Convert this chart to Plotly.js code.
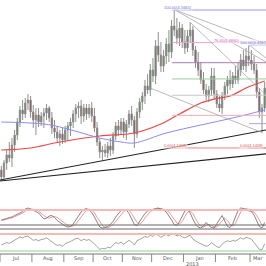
<!DOCTYPE html>
<html><head><meta charset="utf-8">
<script src="https://cdn.plot.ly/plotly-3.0.1.min.js"></script>
<style>html,body{margin:0;padding:0;background:#fff;}#c{width:266px;height:266px;}</style>
</head><body><div id="c"></div>
<script>
const openP = [4.0728,4.0512,4.0944,4.1191,4.1098,4.1499,4.1808,4.2209,4.2579,4.2456,
4.2795,4.2888,4.2518,4.2271,4.2425,4.2209,4.2394,4.2487,4.2641,4.2333,
4.2024,4.1900,4.1715,4.1839,4.1654,4.1962,4.2086,4.2209,4.2456,4.2641,
4.2703,4.2394,4.2641,4.2456,4.2641,4.2394,4.2024,4.1592,4.1283,4.1345,
4.1252,4.1468,4.1345,4.1777,4.2086,4.1962,4.2209,4.1900,4.2147,4.2456,
4.2271,4.1839,4.2518,4.2826,4.3011,4.3320,4.3197,4.3814,4.3629,4.4554,
4.4277,4.3937,4.4246,4.4616,4.4369,4.5172,4.5048,4.4801,4.5110,4.4678,
4.4493,4.4863,4.5048,4.4431,4.4061,4.3814,4.3505,4.3197,4.3011,4.3197,
4.3629,4.3073,4.2765,4.2641,4.3011,4.3320,4.3505,4.3382,4.3629,4.3505,
4.3814,4.4122,4.3937,4.4246,4.4122,4.3999,4.3814,4.3135,4.2518,4.2641];
const highP = [4.0851,4.1036,4.1345,4.1592,4.1715,4.1962,4.2333,4.2703,4.2888,4.2950,
4.3073,4.3011,4.2734,4.2641,4.2641,4.2518,4.2641,4.2765,4.2703,4.2518,
4.2271,4.2086,4.1962,4.2024,4.2086,4.2209,4.2333,4.2579,4.2765,4.2826,
4.2888,4.2765,4.2765,4.2765,4.2826,4.2641,4.2209,4.1715,4.1468,4.1530,
4.1592,4.1715,4.1900,4.2209,4.2271,4.2333,4.2333,4.2271,4.2579,4.2703,
4.2394,4.2641,4.2950,4.3135,4.3505,4.3690,4.3999,4.4184,4.4740,4.4986,
4.4678,4.4431,4.4801,4.5048,4.5357,4.5665,4.5419,4.5295,4.5233,4.5048,
4.5048,4.5295,4.5172,4.4554,4.4369,4.4061,4.3752,4.3382,4.3320,4.3876,
4.3876,4.3197,4.3011,4.3135,4.3443,4.3629,4.3814,4.3752,4.3937,4.4061,
4.4308,4.4431,4.4493,4.4587,4.4431,4.4246,4.3999,4.3258,4.2765,4.3443];
const lowP = [4.0388,4.0450,4.0728,4.0975,4.0820,4.1283,4.1654,4.2055,4.2271,4.2333,
4.2579,4.2333,4.2024,4.1808,4.2055,4.2086,4.2024,4.2271,4.2209,4.1839,
4.1715,4.1561,4.1468,4.1530,4.1561,4.1623,4.1777,4.2024,4.2209,4.2333,
4.2147,4.2209,4.2271,4.2333,4.2209,4.1900,4.1468,4.1098,4.1036,4.1129,
4.1098,4.1160,4.1222,4.1654,4.1777,4.1839,4.1715,4.1654,4.2024,4.2086,
4.1408,4.1715,4.2333,4.2579,4.2765,4.3073,4.3011,4.3443,4.3382,4.4061,
4.3752,4.3752,4.3999,4.4061,4.4184,4.4863,4.4616,4.4554,4.4493,4.4308,
4.4369,4.4678,4.4246,4.3876,4.3629,4.3382,4.3073,4.2888,4.2826,4.3011,
4.2888,4.2641,4.2518,4.2456,4.2888,4.3073,4.3197,4.3258,4.3382,4.3382,
4.3629,4.3814,4.3752,4.3937,4.3814,4.3690,4.2950,4.2333,4.1900,4.2518];
const closeP = [4.0512,4.0944,4.1191,4.1098,4.1499,4.1808,4.2209,4.2579,4.2456,4.2795,
4.2888,4.2518,4.2271,4.2425,4.2209,4.2394,4.2487,4.2641,4.2333,4.2024,
4.1900,4.1715,4.1839,4.1654,4.1962,4.2086,4.2209,4.2456,4.2641,4.2703,
4.2394,4.2641,4.2456,4.2641,4.2394,4.2024,4.1592,4.1283,4.1345,4.1252,
4.1468,4.1345,4.1777,4.2086,4.1962,4.2209,4.1900,4.2147,4.2456,4.2271,
4.1839,4.2518,4.2826,4.3011,4.3320,4.3197,4.3814,4.3629,4.4554,4.4277,
4.3937,4.4246,4.4616,4.4369,4.5172,4.5048,4.4801,4.5110,4.4678,4.4493,
4.4863,4.5048,4.4431,4.4061,4.3814,4.3505,4.3197,4.3011,4.3197,4.3629,
4.3073,4.2765,4.2641,4.3011,4.3320,4.3505,4.3382,4.3629,4.3505,4.3814,
4.4122,4.3937,4.4246,4.4122,4.3999,4.3814,4.3135,4.2518,4.2641,4.3258];

const maRedIdx = [0,11,22,37,50,60,67,75,80,86,92,99];
const maRedVal = [4.1345,4.1407,4.1592,4.1777,4.1870,4.2147,4.2456,4.2795,4.2919,4.3011,4.3258,4.3474];
const maBlueIdx = [0,16,22,29,37,45,50,62,75,87,99];
const maBlueVal = [4.2209,4.2147,4.2055,4.1900,4.1715,4.1592,4.1561,4.1870,4.2116,4.2333,4.2579];

const stochK = [40,42,46,50,52,58,62,68,74,84, 88,84,78,74,68,56,44,48,56,58,
50,38,30,22,16,12,14,24,40,58, 72,82,86,80,70,52,32,12,8,10,
14,22,34,52,64,78,82,80,66,44, 22,18,32,50,66,76,80,84,86,88,
84,80,72,58,40,22,18,34,56,76, 82,68,44,24,12,8,16,30,18,10,
8,24,44,58,36,14,10,24,52,78, 88,86,80,78,74,60,36,14,8,30];
const stochD = [38,40,42,45,49,53,57,62,68,75, 82,85,84,80,75,68,58,50,48,52,
54,50,42,32,24,18,14,16,24,38, 56,70,80,84,80,68,52,34,18,10,
10,14,22,34,48,62,74,80,78,66, 46,30,24,32,48,62,74,80,84,86,
86,84,80,72,58,40,28,24,34,54, 70,76,66,46,28,16,12,18,22,18,
12,12,24,40,48,38,22,16,26,50, 72,84,86,82,78,72,58,38,20,16];
const rsi = [44,47,50,48,52,56,60,63,61,64, 65,60,55,57,54,57,58,61,56,50,
47,43,45,41,47,50,52,56,59,60, 54,58,55,57,53,47,40,34,36,35,
39,37,44,50,47,51,46,50,55,51, 44,54,58,60,64,62,67,64,71,67,
62,66,69,65,72,69,66,68,63,61, 65,67,58,53,50,47,43,41,43,50,
45,40,38,46,51,54,52,55,53,57, 61,58,62,60,58,50,42,34,33,47];

const monthLabels = ["Jul","Aug","Sep","Oct","Nov","Dec","Jan","Feb","Mar"];
const monthStarts = [-0.5,11.5,23.5,34.5,45.5,56.5,68.5,80.5,93.5];
const yearLabel = "2013";

const fibA = {start:64.2, levels:[
  {p:4.5665,c:"#9a9af0"},{p:4.4660,c:"#f4a0d0"},{p:4.4039,c:"#b07ab0"},
  {p:4.3537,c:"#9ccc9c"},{p:4.3034,c:"#c8c8c8"},{p:4.2413,c:"#f4b0b0"},{p:4.1408,c:"#f08080"}]};
const fibB = {start:93.1, levels:[{p:4.4587,c:"#9a9af0"},{p:4.2158,c:"#a8a8d0"},{p:4.1408,c:"#f08080"}]};
const fibLabels = [
  {x:60.8,p:4.5665,t:"100.00(4.5665)",c:"#7070d8"},
  {x:79.6,p:4.4660,t:"76.40(4.4660)",c:"#e050c0"},
  {x:89.4,p:4.4587,t:"100.00(4.4587)",c:"#7070d8"},
  {x:60.8,p:4.1408,t:"0.00(4.1408)",c:"#e05050"},
  {x:89.4,p:4.1408,t:"0.00(4.1408)",c:"#e05050"}];
const trendLines = [
  {x0:-0.5,y0:4.0419,x1:99.5,y1:4.1962},
  {x0:-0.5,y0:4.0388,x1:99.5,y1:4.1222}];
const greyLines = [
  {x0:65.3,y0:4.5665,x1:99.5,y1:4.4616},
  {x0:65.3,y0:4.5665,x1:99.5,y1:4.4061},
  {x0:70.9,y0:4.5295,x1:99.5,y1:4.3042},
  {x0:55.9,y0:4.3258,x1:98.4,y1:4.1870},
  {x0:93.1,y0:4.4587,x1:99.5,y1:4.4184}];

const idx = closeP.map((_, i) => i);
const N = idx.length;
const py = y => (266 - y) / 266;

const traces = [
  {type:"candlestick", x:idx, open:openP, high:highP, low:lowP, close:closeP,
   xaxis:"x", yaxis:"y", whiskerwidth:0,
   increasing:{line:{color:"#8e8e8e",width:1}, fillcolor:"#3f7f3f"},
   decreasing:{line:{color:"#8e8e8e",width:1}, fillcolor:"#8b2323"},
   hoverinfo:"skip", showlegend:false},
  {type:"scatter", mode:"lines", x:maRedIdx, y:maRedVal, xaxis:"x", yaxis:"y",
   line:{color:"#e84848",width:1.2,shape:"spline"}, showlegend:false, hoverinfo:"skip"},
  {type:"scatter", mode:"lines", x:maBlueIdx, y:maBlueVal, xaxis:"x", yaxis:"y",
   line:{color:"#8c8cf0",width:1,shape:"spline"}, showlegend:false, hoverinfo:"skip"},
  {type:"scatter", mode:"lines", x:idx, y:stochD, xaxis:"x", yaxis:"y2",
   line:{color:"#f08a8a",width:0.9}, showlegend:false, hoverinfo:"skip"},
  {type:"scatter", mode:"lines", x:idx, y:stochK, xaxis:"x", yaxis:"y2",
   line:{color:"#666666",width:0.8}, showlegend:false, hoverinfo:"skip"},
  {type:"scatter", mode:"lines", x:idx, y:rsi, xaxis:"x", yaxis:"y3",
   line:{color:"#8a8a8a",width:0.8}, showlegend:false, hoverinfo:"skip"}
];

const shapes = [];
shapes.push({type:"line",xref:"paper",x0:0,x1:1,yref:"y2",y0:80,y1:80,line:{color:"#f7b8b8",width:2}});
shapes.push({type:"line",xref:"paper",x0:0,x1:1,yref:"y2",y0:20,y1:20,line:{color:"#666",width:1}});
shapes.push({type:"line",xref:"paper",x0:0,x1:1,yref:"y2",y0:4,y1:4,line:{color:"#666",width:1}});
shapes.push({type:"line",xref:"paper",x0:0,x1:1,yref:"y3",y0:70,y1:70,line:{color:"#f7b8b8",width:2}});
shapes.push({type:"line",xref:"paper",x0:0,x1:1,yref:"y3",y0:30,y1:30,line:{color:"#8fd08f",width:1.2}});
shapes.push({type:"line",xref:"paper",x0:0,x1:1,yref:"paper",y0:py(254),y1:py(254),line:{color:"#777",width:1}});
monthStarts.forEach(s => shapes.push({type:"line",xref:"x",x0:s,x1:s,yref:"paper",y0:py(254),y1:py(262),line:{color:"#888",width:1}}));
[fibA, fibB].forEach(f => f.levels.forEach(l => shapes.push({type:"line",xref:"x",x0:f.start,x1:N-0.5,yref:"y",y0:l.p,y1:l.p,line:{color:l.c,width:1}})));
trendLines.forEach(t => shapes.push({type:"line",xref:"x",yref:"y",x0:t.x0,y0:t.y0,x1:t.x1,y1:t.y1,line:{color:"#222",width:1.2}}));
greyLines.forEach(t => shapes.push({type:"line",xref:"x",yref:"y",x0:t.x0,y0:t.y0,x1:t.x1,y1:t.y1,line:{color:"#a8a8a8",width:0.8}}));

const annotations = [];
monthLabels.forEach((m, k) => {
  const a = monthStarts[k], b = k + 1 < monthStarts.length ? monthStarts[k+1] : monthStarts[k] + 6;
  annotations.push({xref:"x",yref:"paper",x:(a+b)/2,y:py(258),text:m,showarrow:false,
    font:{family:"DejaVu Sans",size:5,color:"#555"},xanchor:"center",yanchor:"middle"});
});
annotations.push({xref:"x",yref:"paper",x:monthStarts[6]+0.3,y:py(263.5),text:yearLabel,showarrow:false,
  font:{family:"DejaVu Sans",size:5,color:"#555"},xanchor:"left",yanchor:"middle"});
fibLabels.forEach(l => annotations.push({xref:"x",yref:"y",x:l.x,y:l.p,text:l.t,showarrow:false,
  font:{family:"Liberation Sans",size:4,color:l.c},xanchor:"left",yanchor:"bottom",yshift:-1,
  bgcolor:"rgba(255,255,255,0.6)",borderpad:0}));

const hid = {showgrid:false,zeroline:false,showticklabels:false,showline:false,ticks:"",fixedrange:true};
const layout = {
  width:266, height:266, margin:{l:0,r:0,t:0,b:0},
  paper_bgcolor:"#fff", plot_bgcolor:"#fff", showlegend:false,
  xaxis:Object.assign({}, hid, {range:[-0.5, N-0.5], domain:[0,1], anchor:"y3", rangeslider:{visible:false}}),
  yaxis:Object.assign({}, hid, {domain:[py(196),1], range:[3.9925,4.5974]}),
  yaxis2:Object.assign({}, hid, {domain:[py(230),py(203)], range:[0,108]}),
  yaxis3:Object.assign({}, hid, {domain:[py(254),py(230)], range:[22.9,79.4]}),
  shapes:shapes, annotations:annotations
};
Plotly.newPlot("c", traces, layout, {staticPlot:true, displayModeBar:false});
</script></body></html>
